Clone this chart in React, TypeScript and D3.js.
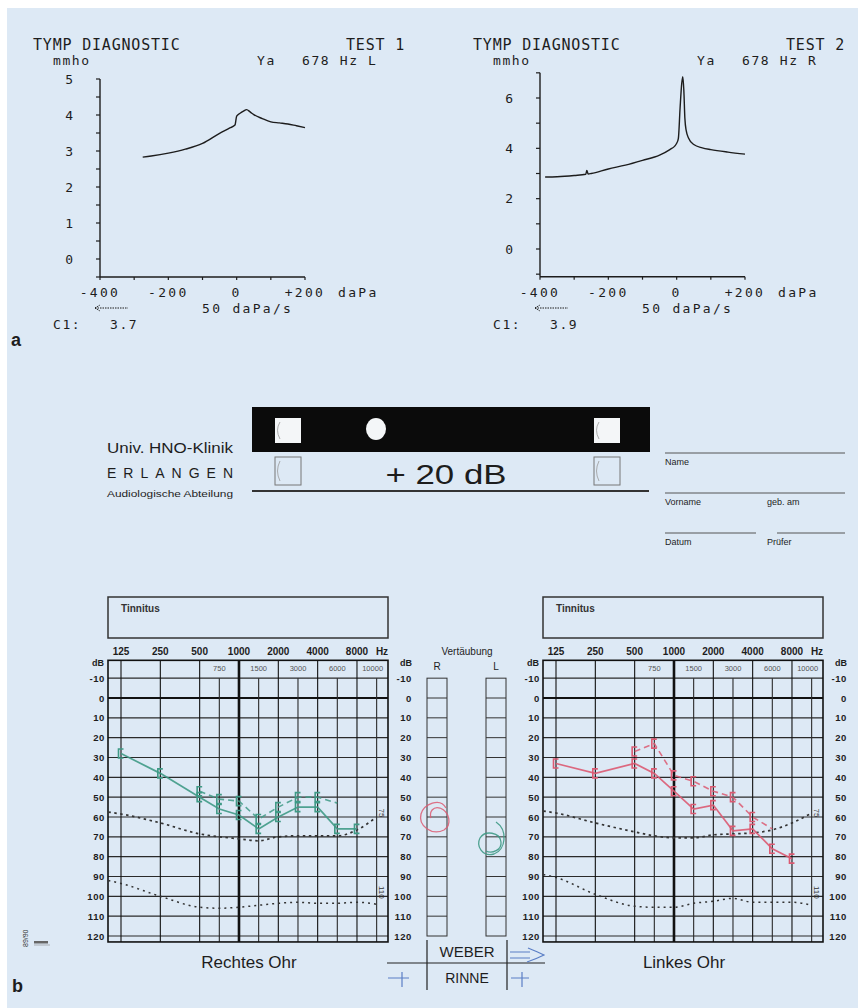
import React from "react";
import * as d3 from "d3";

const width = 858;
const height = 1008;

const paper = "#dde9f5";
const ink = "#1d1d1d";
const green = "#3f9a86";
const red = "#dc5a72";
const blue = "#5b7fc6";
const mono = "'DejaVu Sans Mono', monospace";
const sans = "'Liberation Sans', Arial, sans-serif";

// --- tympanograms (daPa -> mmho)
const tymp1Pressure = [-275, -250, -200, -150, -100, -50, -20, -5, 0, 10, 20, 29, 40, 50, 75, 100, 125, 150, 175, 200];
const tymp1Admittance = [2.83, 2.86, 2.94, 3.05, 3.21, 3.49, 3.64, 3.72, 3.97, 4.05, 4.11, 4.15, 4.08, 4.01, 3.9, 3.81, 3.78, 3.75, 3.7, 3.65];
const tymp2Pressure = [-385, -350, -300, -266, -263, -259, -250, -200, -150, -100, -50, -20, -5, 0, 5, 10, 15, 18, 21, 24, 28, 35, 50, 75, 100, 150, 200];
const tymp2Admittance = [2.86, 2.87, 2.92, 2.97, 3.12, 2.98, 3.0, 3.18, 3.33, 3.52, 3.73, 3.95, 4.1, 4.2, 4.4, 5.6, 6.6, 6.85, 6.3, 5.2, 4.7, 4.4, 4.15, 4.02, 3.95, 3.85, 3.77];
const tymp1Labels = [0, 1, 2, 3, 4, 5];
const tymp2Labels = [0, 2, 4, 6];
const pressureTicks = [-400, -200, 0, 200];
const pressureLabels = ["-400", "-200", "0", "+200"];

// --- audiograms
const octaveFreqs = [125, 250, 500, 1000, 2000, 4000, 8000];
const halfFreqs = [750, 1500, 3000, 6000, 10000];
const gridFreqs = [125, 250, 500, 750, 1000, 1500, 2000, 3000, 4000, 6000, 8000, 10000];
const gridSlots = [0, 1, 2, 2.5, 3, 3.5, 4, 4.5, 5, 5.5, 6, 6.5];
const dbTicks = [-10, 0, 10, 20, 30, 40, 50, 60, 70, 80, 90, 100, 110, 120];

const airFreqs = [125, 250, 500, 750, 1000, 1500, 2000, 3000, 4000, 6000, 8000];
const boneFreqs = [500, 750, 1000, 1500, 2000, 3000, 4000, 6000];
const rightEarAir = [28, 38, 50, 56, 59, 66, 60, 55, 55, 66, 66];
const rightEarBone = [47, 51, 52, 61, 55, 50, 50, 53];
const leftEarAir = [33, 38, 33, 38, 47, 56, 54, 67, 66, 76, 81];
const leftEarBone = [27, 23, 39, 42, 47, 50, 60, 66];

const curveFreqs = [100, 125, 250, 500, 750, 1000, 1500, 2000, 3000, 4000, 6000, 8000, 10000];
const rightUpper = [57.5, 58.5, 63, 68.5, 70, 71, 72, 70, 69.5, 69.5, 69.5, 66.5, 60];
const rightLower = [92, 93.5, 100, 105.5, 106, 105.5, 104.5, 103.5, 103, 103.5, 103.5, 103, 104];
const leftUpper = [57, 58, 63, 67.5, 69.5, 70.5, 70.5, 69, 68.5, 68, 66.5, 63, 58];
const leftLower = [89, 90.5, 99, 105, 105.5, 105.5, 103.5, 102.5, 101, 103, 103, 103, 104.5];

const maskCells = d3.range(0, 120, 10);

const yDb = d3.scaleLinear().domain([0, 120]).range([698, 936]);

const Tymp = ({ left, yMax, yZero, yTop, lo, hi, step, labels, pressure, admittance, test, ear, c1 }) => {
  const x = d3.scaleLinear().domain([-400, 200]).range([left, left + 205]);
  const y = d3.scaleLinear().domain([0, yMax]).range([yZero, yTop]);
  const line = d3.line<number>().x((d, i) => x(pressure[i])).y((d) => y(d)).curve(d3.curveMonotoneX);
  const ticks = d3.range(lo, hi + 0.001, step);
  const base = y(lo - (test === 1 ? 0 : 0.1));
  return (
    <g fill={ink} fontFamily={mono}>
      <text x={left - 67} y={50} fontSize={15} letterSpacing={0.8}>TYMP DIAGNOSTIC</text>
      <text x={left + 305} y={50} fontSize={15} letterSpacing={0.8} textAnchor="end">{`TEST ${test}`}</text>
      <text x={left - 47} y={65} fontSize={13} letterSpacing={1.6}>mmho</text>
      <text x={left + 157} y={65} fontSize={13} letterSpacing={1.6}>Ya</text>
      <text x={left + 202} y={65} fontSize={13} letterSpacing={1.6}>{`678 Hz ${ear}`}</text>
      <line x1={left} x2={left} y1={y(hi)} y2={base} stroke={ink} strokeWidth={1.4} />
      <line x1={left} x2={x(200)} y1={base} y2={base} stroke={ink} strokeWidth={1.4} />
      {ticks.map((t) => (
        <line key={t} x1={left - 4} x2={left} y1={y(t)} y2={y(t)} stroke={ink} strokeWidth={1.2} />
      ))}
      {labels.map((t) => (
        <text key={t} x={left - 27} y={y(t) + 4.5} fontSize={13} textAnchor="end">{t}</text>
      ))}
      {d3.range(-400, 201, 100).map((p) => (
        <line key={p} x1={x(p)} x2={x(p)} y1={base} y2={base + 3} stroke={ink} strokeWidth={1.2} />
      ))}
      {pressureTicks.map((p, i) => (
        <text key={p} x={x(p)} y={297} fontSize={13} letterSpacing={2.3} textAnchor="middle">{pressureLabels[i]}</text>
      ))}
      <text x={left + 238} y={297} fontSize={13} letterSpacing={2.3}>daPa</text>
      <text x={left + 102} y={313} fontSize={13} letterSpacing={2.3}>50 daPa/s</text>
      <path d={`M${left - 5},308 l5,-3 M${left - 5},308 l5,3 M${left - 5},308 H${left + 28}`} stroke={ink} strokeWidth={1} strokeDasharray="1.5 1" fill="none" />
      <text x={left - 47} y={329} fontSize={13} letterSpacing={1.6}>C1:</text>
      <text x={left + 10} y={329} fontSize={13} letterSpacing={1.6}>{c1}</text>
      <path d={line(admittance) ?? ""} fill="none" stroke={ink} strokeWidth={1.4} />
    </g>
  );
};

const bracket = (cx: number, cy: number) =>
  `M${cx + 2.5},${cy - 4.5} H${cx - 2.5} V${cy + 4.5} H${cx + 2.5}`;

const Audiogram = ({ x0, color, air, bone, upper, lower, title }) => {
  const x = d3
    .scaleLog()
    .base(2)
    .domain(gridFreqs)
    .range(gridSlots.map((s) => x0 + 13 + s * 39.33));
  const top = yDb(-19);
  const bottom = yDb(123);
  const right = x0 + 280;
  const airLine = d3.line<number>().x((d, i) => x(airFreqs[i])).y((d) => yDb(d));
  const boneLine = d3.line<number>().x((d, i) => x(boneFreqs[i])).y((d) => yDb(d));
  const maskLine = d3.line<number>().x((d, i) => x(curveFreqs[i])).y((d) => yDb(d)).curve(d3.curveMonotoneX);
  return (
    <g fontFamily={sans}>
      <rect x={x0} y={597} width={280} height={41} fill="none" stroke="#333" strokeWidth={1.5} />
      <text x={x0 + 13} y={612} fontSize={10} fontWeight="bold" fill="#333">Tinnitus</text>
      {octaveFreqs.map((f) => (
        <text key={f} x={x(f)} y={655} fontSize={10} fontWeight="bold" textAnchor="middle" fill={ink}>{f}</text>
      ))}
      <text x={right - 6} y={655} fontSize={10} fontWeight="bold" textAnchor="middle" fill={ink}>Hz</text>
      {halfFreqs.map((f) => (
        <text key={f} x={f === 10000 ? x(f) - 4 : x(f)} y={671} fontSize={7.5} textAnchor="middle" fill="#555">{f}</text>
      ))}
      {dbTicks.map((d) => (
        <line key={d} x1={x0} x2={right} y1={yDb(d)} y2={yDb(d)} stroke={d === 0 ? "#111" : "#2a2a2a"} strokeWidth={d === 0 ? 2.2 : 1.1} />
      ))}
      {octaveFreqs.map((f) => (
        <line key={f} x1={x(f)} x2={x(f)} y1={top} y2={bottom} stroke="#111" strokeWidth={f === 1000 ? 2.6 : 1.1} />
      ))}
      {halfFreqs.map((f) => (
        <line key={f} x1={x(f)} x2={x(f)} y1={yDb(-10)} y2={bottom} stroke="#2a2a2a" strokeWidth={1.1} />
      ))}
      <rect x={x0} y={top} width={280} height={bottom - top} fill="none" stroke="#111" strokeWidth={1.6} />
      <text x={x0 - 4} y={top + 6} fontSize={9} fontWeight="bold" textAnchor="end" fill={ink}>dB</text>
      <text x={right + 24} y={top + 6} fontSize={9} fontWeight="bold" textAnchor="end" fill={ink}>dB</text>
      {dbTicks.map((d) => (
        <g key={d} fontSize={9.5} fontWeight="bold" fill={ink} textAnchor="end" letterSpacing={0.6}>
          <text x={x0 - 3} y={yDb(d) + 3.5}>{d}</text>
          <text x={right + 24} y={yDb(d) + 3.5}>{d}</text>
        </g>
      ))}
      <path d={maskLine(upper) ?? ""} fill="none" stroke="#333" strokeWidth={1.7} strokeDasharray="2.5 3.5" />
      <path d={maskLine(lower) ?? ""} fill="none" stroke="#333" strokeWidth={1.5} strokeDasharray="2 4" />
      <text transform={`translate(${right - 9},${yDb(58)}) rotate(90)`} fontSize={8} fill="#333" textAnchor="middle">75</text>
      <text transform={`translate(${right - 9},${yDb(98)}) rotate(90)`} fontSize={8} fill="#333" textAnchor="middle">110</text>
      <path d={boneLine(bone) ?? ""} fill="none" stroke={color} strokeWidth={1.6} strokeDasharray="6 4" opacity={0.85} />
      <path d={airLine(air) ?? ""} fill="none" stroke={color} strokeWidth={1.7} opacity={0.9} />
      {air.map((d, i) => (
        <path key={"a" + i} d={bracket(x(airFreqs[i]), yDb(d))} fill="none" stroke={color} strokeWidth={1.6} />
      ))}
      {bone.slice(0, -1).map((d, i) => (
        <path key={"b" + i} d={bracket(x(boneFreqs[i]), yDb(d))} fill="none" stroke={color} strokeWidth={1.6} />
      ))}
      <text x={x0 + 141} y={968} fontSize={17} textAnchor="middle" fill={ink}>{title}</text>
    </g>
  );
};

const App = () => {
  return (
    <svg width={width} height={height} style={{ position: "absolute", left: 0, top: 0, display: "block" }}>
      <rect x={0} y={0} width={width} height={height} fill="#ffffff" />
      <rect x={7} y={8} width={width - 7} height={height - 8} fill={paper} />

      <Tymp left={100} yMax={5} yZero={259} yTop={79} lo={-0.5} hi={5} step={0.5} labels={tymp1Labels}
        pressure={tymp1Pressure} admittance={tymp1Admittance} test={1} ear="L" c1="3.7" />
      <Tymp left={540} yMax={6} yZero={249} yTop={98} lo={-1} hi={7} step={1} labels={tymp2Labels}
        pressure={tymp2Pressure} admittance={tymp2Admittance} test={2} ear="R" c1="3.9" />
      <text x={11} y={346} fontSize={18} fontWeight="bold" fontFamily={sans} fill={ink}>a</text>

      {/* form header */}
      <g fontFamily={sans} fill={ink}>
        <text x={107} y={453} fontSize={14} textLength={126} lengthAdjust="spacingAndGlyphs">Univ. HNO-Klinik</text>
        <text x={107} y={478} fontSize={14} textLength={126} lengthAdjust="spacing">ERLANGEN</text>
        <text x={107} y={497} fontSize={9.5} textLength={126} lengthAdjust="spacingAndGlyphs">Audiologische Abteilung</text>
        <rect x={252} y={407} width={398} height={45} fill="#0b0b0b" />
        <rect x={275} y={418} width={26} height={25} fill="#f4f6f8" />
        <rect x={594} y={418} width={26} height={25} fill="#f4f6f8" />
        <ellipse cx={376} cy={429} rx={10} ry={11} fill="#f4f6f8" />
        <rect x={275} y={457} width={26} height={28} fill="none" stroke="#777" strokeWidth={1} />
        <rect x={594} y={457} width={26} height={28} fill="none" stroke="#777" strokeWidth={1} />
        <path d="M280,422 q-5,8 0,17 M599,422 q-5,8 0,17 M280,461 q-5,10 0,20 M599,461 q-5,10 0,20" fill="none" stroke="#999" strokeWidth={0.8} />
        <text x={446} y={484} fontSize={28} textAnchor="middle" textLength={121} lengthAdjust="spacingAndGlyphs">+ 20 dB</text>
        <line x1={252} x2={649} y1={491} y2={491} stroke="#333" strokeWidth={2} />
        <g stroke="#555" strokeWidth={1}>
          <line x1={665} x2={845} y1={453} y2={453} />
          <line x1={665} x2={845} y1={493} y2={493} />
          <line x1={665} x2={756} y1={533} y2={533} />
          <line x1={777} x2={845} y1={533} y2={533} />
        </g>
        <text x={665} y={465} fontSize={9}>Name</text>
        <text x={665} y={505} fontSize={9}>Vorname</text>
        <text x={767} y={505} fontSize={9}>geb. am</text>
        <text x={665} y={545} fontSize={9}>Datum</text>
        <text x={767} y={545} fontSize={9}>Prüfer</text>
      </g>

      <Audiogram x0={108} color={green} air={rightEarAir} bone={rightEarBone} upper={rightUpper} lower={rightLower} title="Rechtes Ohr" />
      <Audiogram x0={543} color={red} air={leftEarAir} bone={leftEarBone} upper={leftUpper} lower={leftLower} title="Linkes Ohr" />

      {/* masking columns */}
      <g fontFamily={sans} fill={ink}>
        <text x={467} y={655} fontSize={10} textAnchor="middle">Vertäubung</text>
        <text x={437} y={670} fontSize={10} textAnchor="middle">R</text>
        <text x={496} y={670} fontSize={10} textAnchor="middle">L</text>
        {[427, 486].map((cx) => (
          <g key={cx}>
            <rect x={cx} y={yDb(-10)} width={20} height={yDb(120) - yDb(-10)} fill="none" stroke="#333" strokeWidth={1} />
            {maskCells.map((d) => (
              <line key={d} x1={cx} x2={cx + 20} y1={yDb(d)} y2={yDb(d)} stroke="#333" strokeWidth={1} />
            ))}
          </g>
        ))}
        <path d="M446,808 C440,797 424,804 421,814 C418,826 432,836 444,830 C452,825 450,812 440,808 C433,806 429,812 431,818" fill="none" stroke={red} strokeWidth={1.3} opacity={0.85} />
        <path d="M496,822 C508,830 506,850 494,854 C482,857 476,846 480,838 C485,830 500,832 501,842 C502,850 492,854 486,851" fill="none" stroke={green} strokeWidth={1.3} opacity={0.9} />

        <line x1={427} x2={427} y1={940} y2={990} stroke="#222" strokeWidth={1.2} />
        <line x1={507} x2={507} y1={940} y2={990} stroke="#222" strokeWidth={1.2} />
        <line x1={387} x2={545} y1={963} y2={963} stroke="#222" strokeWidth={1.2} />
        <text x={467} y={957} fontSize={15} textAnchor="middle">WEBER</text>
        <text x={467} y={983} fontSize={14} textAnchor="middle">RINNE</text>
        <path d="M510,952 H530 M510,958 H530 M528,948 Q538,952 544,955 Q536,959 527,962" fill="none" stroke={blue} strokeWidth={1.2} />
        <path d="M388,978 H409 M402,972 V987 M511,978 H529 M522,972 V987" fill="none" stroke={blue} strokeWidth={1.2} />
      </g>

      <text transform="translate(28,947) rotate(-90)" fontSize={7} fontFamily={sans} fill="#333">89/90</text>
      <rect x={34} y={941} width={14} height={2.5} fill="#666" />
      <line x1={34} x2={50} y1={945} y2={945} stroke="#888" strokeWidth={0.6} />
      <text x={12} y={992} fontSize={18} fontWeight="bold" fontFamily={sans} fill={ink}>b</text>
    </svg>
  );
};

export default App;
